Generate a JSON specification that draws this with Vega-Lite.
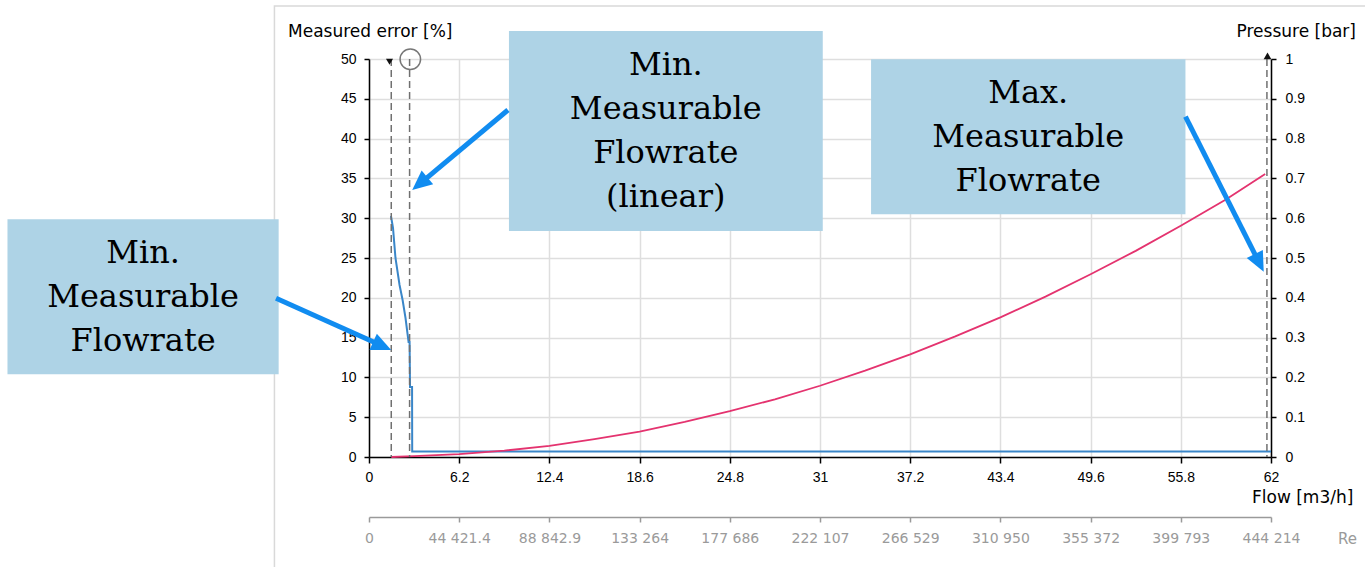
{
  "$schema": "https://vega.github.io/schema/vega-lite/v6.json",
  "width": 902,
  "height": 398,
  "autosize": {"type": "none"},
  "padding": {"left": 369, "top": 59, "right": 94, "bottom": 110},
  "background": "white",
  "config": {
    "view": {"stroke": null},
    "axis": {
      "labelFont": "Liberation Sans",
      "labelFontSize": 14,
      "labelColor": "#000000",
      "titleFont": "DejaVu Sans",
      "titleFontSize": 17,
      "titleFontWeight": "normal",
      "titleColor": "#000000",
      "domainColor": "#000000",
      "domainWidth": 1.5,
      "tickColor": "#000000",
      "tickWidth": 1.5,
      "gridColor": "#dedede",
      "gridWidth": 1.5
    }
  },
  "datasets": {
    "frame": [{"x1": -6.5, "x2": 70.9, "y1": 56.66, "y2": -17.96}],
    "err": [
      {"n": 1, "flow": 1.51, "err": 30.28},
      {"n": 2, "flow": 1.65, "err": 28.77},
      {"n": 3, "flow": 1.82, "err": 25.0},
      {"n": 4, "flow": 2.10, "err": 21.61},
      {"n": 5, "flow": 2.31, "err": 19.72},
      {"n": 6, "flow": 2.51, "err": 17.46},
      {"n": 7, "flow": 2.72, "err": 14.45},
      {"n": 8, "flow": 2.79, "err": 14.45},
      {"n": 9, "flow": 2.82, "err": 8.79},
      {"n": 10, "flow": 2.96, "err": 8.79},
      {"n": 11, "flow": 2.97, "err": 0.69},
      {"n": 12, "flow": 62, "err": 0.69}
    ],
    "pres": [
      {"flow": 1.53, "p": 0.0},
      {"flow": 3.1, "p": 0.002},
      {"flow": 6.2, "p": 0.007},
      {"flow": 9.3, "p": 0.016},
      {"flow": 12.4, "p": 0.028},
      {"flow": 15.5, "p": 0.045},
      {"flow": 18.6, "p": 0.064},
      {"flow": 21.7, "p": 0.088},
      {"flow": 24.8, "p": 0.115},
      {"flow": 27.9, "p": 0.145},
      {"flow": 31.0, "p": 0.179},
      {"flow": 34.1, "p": 0.217},
      {"flow": 37.2, "p": 0.258},
      {"flow": 40.3, "p": 0.303},
      {"flow": 43.4, "p": 0.351},
      {"flow": 46.5, "p": 0.403},
      {"flow": 49.6, "p": 0.459},
      {"flow": 52.7, "p": 0.518},
      {"flow": 55.8, "p": 0.581},
      {"flow": 58.9, "p": 0.647},
      {"flow": 61.6, "p": 0.711}
    ],
    "limits": [{"flow": 1.53}, {"flow": 2.79}, {"flow": 61.72}],
    "boxes": [
      {"x1": -24.85, "x2": -6.21, "y1": 29.86, "y2": 10.39, "cx": -15.53, "cy": 25.65, "label": "Min.\nMeasurable\nFlowrate"},
      {"x1": 9.62, "x2": 31.19, "y1": 53.52, "y2": 28.39, "cx": 20.40, "cy": 49.25, "label": "Min.\nMeasurable\nFlowrate\n(linear)"},
      {"x1": 34.51, "x2": 56.12, "y1": 49.96, "y2": 30.49, "cx": 45.31, "cy": 45.75, "label": "Max.\nMeasurable\nFlowrate"}
    ],
    "shafts": [
      {"x1": -6.39, "y1": 19.94, "x2": 0.778, "y2": 14.06},
      {"x1": 9.55, "y1": 43.59, "x2": 3.61, "y2": 34.51},
      {"x1": 56.12, "y1": 42.75, "x2": 61.13, "y2": 24.62}
    ]
  },
  "layer": [
    {
      "data": {"name": "frame"},
      "mark": {"type": "rect", "fillOpacity": 0, "stroke": "#d9d9d9", "strokeWidth": 1.5, "clip": false},
      "encoding": {
        "x": {"field": "x1", "type": "quantitative", "scale": {"domain": [0, 62], "nice": false, "zero": false}, "axis": null},
        "x2": {"field": "x2"},
        "y": {"field": "y1", "type": "quantitative", "scale": {"domain": [0, 50], "nice": false}, "axis": null},
        "y2": {"field": "y2"}
      }
    },
    {
      "data": {"name": "err"},
      "mark": {"type": "line", "color": "#3a86c8", "strokeWidth": 2, "clip": false},
      "encoding": {
        "x": {
          "field": "flow", "type": "quantitative",
          "scale": {"domain": [0, 62], "nice": false, "zero": false},
          "axis": {
            "orient": "bottom",
            "values": [0, 6.2, 12.4, 18.6, 24.8, 31, 37.2, 43.4, 49.6, 55.8, 62],
            "format": ".1~f",
            "grid": true,
            "tickSize": 6,
            "labelPadding": 7,
            "labelFlush": false,
            "labelOverlap": false,
            "title": "Flow [m3/h]",
            "titleX": 882.5,
            "titleY": 40,
            "titleAlign": "left",
            "titleAnchor": "start",
            "titleBaseline": "middle",
            "titleAngle": 0
          }
        },
        "y": {
          "field": "err", "type": "quantitative",
          "scale": {"domain": [0, 50], "nice": false},
          "axis": {
            "orient": "left",
            "values": [0, 5, 10, 15, 20, 25, 30, 35, 40, 45, 50],
            "format": "d",
            "grid": true,
            "tickSize": 5,
            "labelPadding": 8,
            "labelFlush": false,
            "labelOverlap": false,
            "title": "Measured error [%]",
            "titleAngle": 0,
            "titleX": -81.5,
            "titleY": -28,
            "titleAlign": "left",
            "titleAnchor": "start",
            "titleBaseline": "middle"
          }
        },
        "order": {"field": "n", "type": "quantitative"}
      }
    },
    {
      "data": {"name": "pres"},
      "mark": {"type": "line", "color": "#e4336f", "strokeWidth": 1.8, "clip": false},
      "encoding": {
        "x": {
          "field": "flow", "type": "quantitative",
          "scale": {"domain": [0, 62], "nice": false, "zero": false},
          "axis": {
            "orient": "bottom",
            "offset": 60,
            "values": [0, 6.2, 12.4, 18.6, 24.8, 31, 37.2, 43.4, 49.6, 55.8, 62],
            "labelExpr": "datum.value < 1 ? '0' : datum.value < 7 ? '44 421.4' : datum.value < 13 ? '88 842.9' : datum.value < 19 ? '133 264' : datum.value < 25 ? '177 686' : datum.value < 32 ? '222 107' : datum.value < 38 ? '266 529' : datum.value < 44 ? '310 950' : datum.value < 50 ? '355 372' : datum.value < 56 ? '399 793' : '444 214'",
            "grid": false,
            "domainColor": "#9a9a9a",
            "tickColor": "#9a9a9a",
            "labelColor": "#9a9a9a",
            "labelFont": "DejaVu Sans",
            "labelFontSize": 14,
            "tickSize": 5,
            "labelPadding": 9,
            "labelFlush": false,
            "labelOverlap": false,
            "title": "Re",
            "titleColor": "#9a9a9a",
            "titleFont": "DejaVu Sans",
            "titleFontSize": 15,
            "titleX": 968.5,
            "titleY": 21,
            "titleAlign": "left",
            "titleAnchor": "start",
            "titleBaseline": "middle",
            "titleAngle": 0
          }
        },
        "y": {
          "field": "p", "type": "quantitative",
          "scale": {"domain": [0, 1], "nice": false},
          "axis": {
            "orient": "right",
            "values": [0, 0.1, 0.2, 0.3, 0.4, 0.5, 0.6, 0.7, 0.8, 0.9, 1],
            "format": ".1~f",
            "grid": false,
            "tickSize": 5,
            "labelPadding": 9,
            "labelFlush": false,
            "labelOverlap": false,
            "title": "Pressure [bar]",
            "titleAngle": 0,
            "titleX": -35,
            "titleY": -28,
            "titleAlign": "left",
            "titleAnchor": "start",
            "titleBaseline": "middle"
          }
        }
      }
    },
    {
      "data": {"name": "limits"},
      "mark": {"type": "rule", "color": "#707070", "strokeWidth": 1.5, "strokeDash": [7, 4]},
      "encoding": {
        "x": {"field": "flow", "type": "quantitative", "scale": {"domain": [0, 62], "nice": false, "zero": false}, "axis": null}
      }
    },
    {
      "data": {"values": [{"flow": 1.41, "err": 49.66}]},
      "mark": {"type": "point", "shape": "triangle-down", "filled": true, "color": "#111111", "size": 50, "opacity": 1, "clip": false},
      "encoding": {
        "x": {"field": "flow", "type": "quantitative", "scale": {"domain": [0, 62], "nice": false, "zero": false}, "axis": null},
        "y": {"field": "err", "type": "quantitative", "scale": {"domain": [0, 50], "nice": false}, "axis": null}
      }
    },
    {
      "data": {"values": [{"flow": 2.84, "err": 49.96}]},
      "mark": {"type": "point", "shape": "circle", "filled": false, "color": "#777777", "strokeWidth": 1.5, "size": 420, "opacity": 1, "clip": false},
      "encoding": {
        "x": {"field": "flow", "type": "quantitative", "scale": {"domain": [0, 62], "nice": false, "zero": false}, "axis": null},
        "y": {"field": "err", "type": "quantitative", "scale": {"domain": [0, 50], "nice": false}, "axis": null}
      }
    },
    {
      "data": {"values": [{"flow": 61.76, "err": 50.4}]},
      "mark": {"type": "point", "shape": "triangle-up", "filled": true, "color": "#111111", "size": 60, "opacity": 1, "clip": false},
      "encoding": {
        "x": {"field": "flow", "type": "quantitative", "scale": {"domain": [0, 62], "nice": false, "zero": false}, "axis": null},
        "y": {"field": "err", "type": "quantitative", "scale": {"domain": [0, 50], "nice": false}, "axis": null}
      }
    },
    {
      "data": {"name": "boxes"},
      "mark": {"type": "rect", "color": "#aed3e6", "opacity": 1, "clip": false},
      "encoding": {
        "x": {"field": "x1", "type": "quantitative", "scale": {"domain": [0, 62], "nice": false, "zero": false}, "axis": null},
        "x2": {"field": "x2"},
        "y": {"field": "y1", "type": "quantitative", "scale": {"domain": [0, 50], "nice": false}, "axis": null},
        "y2": {"field": "y2"}
      }
    },
    {
      "data": {"name": "boxes"},
      "mark": {"type": "text", "font": "DejaVu Serif", "fontSize": 32, "lineHeight": 44, "lineBreak": "\n", "align": "center", "baseline": "middle", "color": "#000000", "clip": false},
      "encoding": {
        "x": {"field": "cx", "type": "quantitative", "scale": {"domain": [0, 62], "nice": false, "zero": false}, "axis": null},
        "y": {"field": "cy", "type": "quantitative", "scale": {"domain": [0, 50], "nice": false}, "axis": null},
        "text": {"field": "label"}
      }
    },
    {
      "data": {"name": "shafts"},
      "mark": {"type": "rule", "color": "#118cf0", "strokeWidth": 5, "clip": false},
      "encoding": {
        "x": {"field": "x1", "type": "quantitative", "scale": {"domain": [0, 62], "nice": false, "zero": false}, "axis": null},
        "x2": {"field": "x2"},
        "y": {"field": "y1", "type": "quantitative", "scale": {"domain": [0, 50], "nice": false}, "axis": null},
        "y2": {"field": "y2"}
      }
    },
    {
      "data": {"values": [{"flow": 1.528, "err": 13.44}]},
      "mark": {"type": "point", "shape": "M0,0L-2.2,-1L-2.2,1Z", "filled": true, "color": "#118cf0", "size": 324, "opacity": 1, "angle": 24.2, "clip": false},
      "encoding": {
        "x": {"field": "flow", "type": "quantitative", "scale": {"domain": [0, 62], "nice": false, "zero": false}, "axis": null},
        "y": {"field": "err", "type": "quantitative", "scale": {"domain": [0, 50], "nice": false}, "axis": null}
      }
    },
    {
      "data": {"values": [{"flow": 2.97, "err": 33.54}]},
      "mark": {"type": "point", "shape": "M0,0L-2.2,-1L-2.2,1Z", "filled": true, "color": "#118cf0", "size": 324, "opacity": 1, "angle": 140.1, "clip": false},
      "encoding": {
        "x": {"field": "flow", "type": "quantitative", "scale": {"domain": [0, 62], "nice": false, "zero": false}, "axis": null},
        "y": {"field": "err", "type": "quantitative", "scale": {"domain": [0, 50], "nice": false}, "axis": null}
      }
    },
    {
      "data": {"values": [{"flow": 61.5, "err": 23.28}]},
      "mark": {"type": "point", "shape": "M0,0L-2.2,-1L-2.2,1Z", "filled": true, "color": "#118cf0", "size": 324, "opacity": 1, "angle": 63.2, "clip": false},
      "encoding": {
        "x": {"field": "flow", "type": "quantitative", "scale": {"domain": [0, 62], "nice": false, "zero": false}, "axis": null},
        "y": {"field": "err", "type": "quantitative", "scale": {"domain": [0, 50], "nice": false}, "axis": null}
      }
    }
  ],
  "resolve": {
    "scale": {"y": "independent"},
    "axis": {"x": "independent", "y": "independent"}
  }
}
